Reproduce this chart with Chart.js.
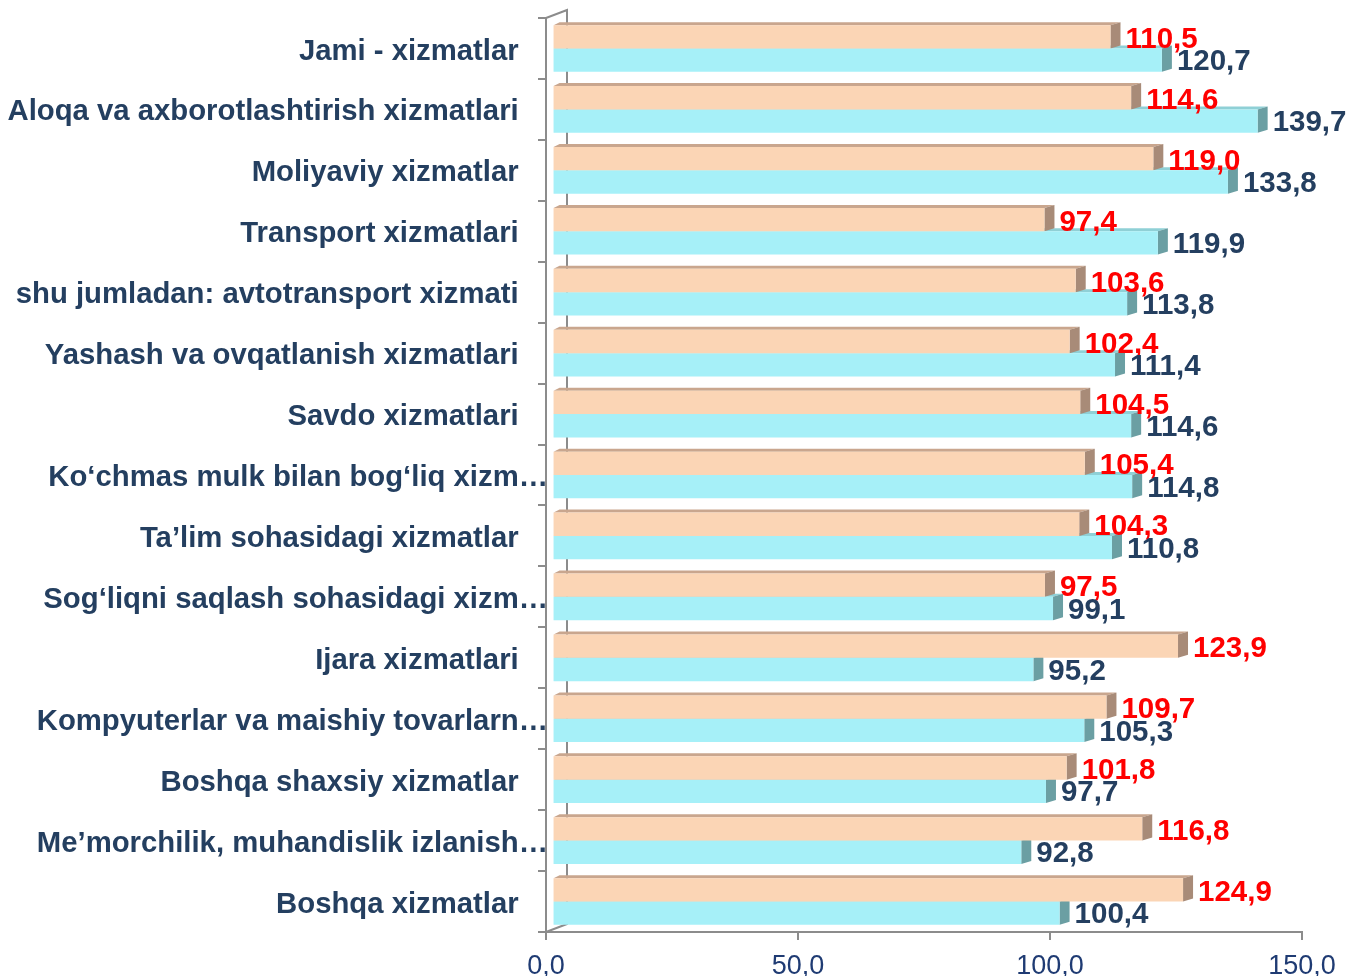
<!DOCTYPE html>
<html><head><meta charset="utf-8">
<script src="https://cdn.jsdelivr.net/npm/chart.js@4.4.1/dist/chart.umd.min.js"></script>
<style>html,body{margin:0;padding:0;background:#fff;overflow:hidden}</style>
</head><body>
<canvas id="c" width="1349" height="976" style="display:block;width:1349px;height:976px"></canvas>
<script>
const categories = [
  "Jami - xizmatlar",
  "Aloqa va axborotlashtirish xizmatlari",
  "Moliyaviy xizmatlar",
  "Transport xizmatlari",
  "shu jumladan: avtotransport xizmati",
  "Yashash va ovqatlanish xizmatlari",
  "Savdo xizmatlari",
  "Ko‘chmas mulk bilan bog‘liq xizm…",
  "Ta’lim sohasidagi xizmatlar",
  "Sog‘liqni saqlash sohasidagi xizm…",
  "Ijara xizmatlari",
  "Kompyuterlar va maishiy tovarlarn…",
  "Boshqa shaxsiy xizmatlar",
  "Me’morchilik, muhandislik izlanish…",
  "Boshqa xizmatlar"
];
const seriesOrange = [110.5,114.6,119.0,97.4,103.6,102.4,104.5,105.4,104.3,97.5,123.9,109.7,101.8,116.8,124.9];
const seriesCyan   = [120.7,139.7,133.8,119.9,113.8,111.4,114.6,114.8,110.8,99.1,95.2,105.3,97.7,92.8,100.4];
const xTickValues = [0,50,100,150];

const FONT = "'Liberation Sans', Arial, sans-serif";
const AXIS_GRAY = '#8c8c8c';
const fmt = v => Number(v).toFixed(1).replace('.', ',');

const DEPTH_X = 10, DEPTH_Y = -3;
const faceColors = [
  {top:'#c9a68e', side:'#a88b78', label:'#ff0000'},
  {top:'#8fd0d6', side:'#6b9fa3', label:'#243f60'}
];

const threeD = {
  id: 'threeD',
  beforeDatasetsDraw(chart) {
    const ctx = chart.ctx, a = chart.chartArea;
    ctx.save();
    ctx.strokeStyle = AXIS_GRAY; ctx.lineWidth = 2;
    ctx.beginPath();
    ctx.moveTo(a.left, a.top); ctx.lineTo(a.left + 21, a.top - 8);
    ctx.lineTo(a.left + 21, a.bottom - 8); ctx.lineTo(a.left, a.bottom);
    ctx.stroke();
    [1, 0].forEach(di => {
      const meta = chart.getDatasetMeta(di);
      const col = faceColors[di];
      meta.data.forEach(bar => {
        const p = bar.getProps(['x','y','base','height'], true);
        const top = p.y - p.height/2, bottom = p.y + p.height/2;
        ctx.fillStyle = col.top;
        ctx.beginPath();
        ctx.moveTo(p.base, top); ctx.lineTo(p.x, top);
        ctx.lineTo(p.x + DEPTH_X, top + DEPTH_Y); ctx.lineTo(p.base + 6, top + DEPTH_Y);
        ctx.closePath(); ctx.fill();
        ctx.fillStyle = col.side;
        ctx.beginPath();
        ctx.moveTo(p.x, top); ctx.lineTo(p.x + DEPTH_X, top + DEPTH_Y);
        ctx.lineTo(p.x + DEPTH_X, bottom + DEPTH_Y); ctx.lineTo(p.x, bottom);
        ctx.closePath(); ctx.fill();
      });
    });
    ctx.restore();
  },
  afterDatasetsDraw(chart) {
    const ctx = chart.ctx;
    ctx.save();
    ctx.font = 'bold 29.5px ' + FONT;
    ctx.textAlign = 'left'; ctx.textBaseline = 'middle';
    [0, 1].forEach(di => {
      const meta = chart.getDatasetMeta(di);
      const ds = chart.data.datasets[di];
      ctx.fillStyle = faceColors[di].label;
      meta.data.forEach((bar, i) => {
        const p = bar.getProps(['x','y'], true);
        ctx.fillText(fmt(ds.data[i]), p.x + DEPTH_X + 5, p.y + (di === 0 ? 3 : 2));
      });
    });
    ctx.restore();
  }
};

new Chart(document.getElementById('c'), {
  type: 'bar',
  data: {
    labels: categories,
    datasets: [
      {label:'A', data: seriesOrange, backgroundColor:'#fbd5b5', xAxisID:'xBar', borderWidth:0},
      {label:'B', data: seriesCyan, backgroundColor:'#a6f0f8', xAxisID:'xBar', borderWidth:0}
    ]
  },
  options: {
    indexAxis: 'y',
    responsive: false,
    animation: false,
    categoryPercentage: 0.766,
    barPercentage: 1.0,
    layout: {padding: {top: 18, right: 47, left: 0, bottom: 0}},
    plugins: {legend:{display:false}, tooltip:{enabled:false}},
    scales: {
      xBar: {type:'linear', display:false, position:'bottom', min:-1.5, max:148.5},
      x: {
        type:'linear', position:'bottom', min:0, max:150,
        afterBuildTicks: s => { s.ticks = xTickValues.map(v => ({value:v})); },
        ticks: {callback: v => fmt(v), font:{family:FONT, size:27}, color:'#1f3b73', padding:10, maxRotation:0},
        grid: {drawOnChartArea:false, drawTicks:true, tickLength:8, color:AXIS_GRAY, lineWidth:2},
        border: {color:AXIS_GRAY, width:2},
        afterFit: s => { s.height = 44; }
      },
      y: {
        type:'category', offset:true,
        grid: {offset:true, drawOnChartArea:false, tickLength:8, color:AXIS_GRAY, lineWidth:2},
        border: {color:AXIS_GRAY, width:2},
        ticks: {
          font:{family:FONT, size:29.3, weight:'bold'}, color:'#243f60', padding:-10, autoSkip:false, labelOffset:3,
          callback: (v, i) => categories[i].endsWith('…') ? categories[i] : categories[i] + '\u2003'
        },
        afterFit: s => { s.width = 546; }
      }
    }
  },
  plugins: [threeD]
});
</script>
</body></html>
